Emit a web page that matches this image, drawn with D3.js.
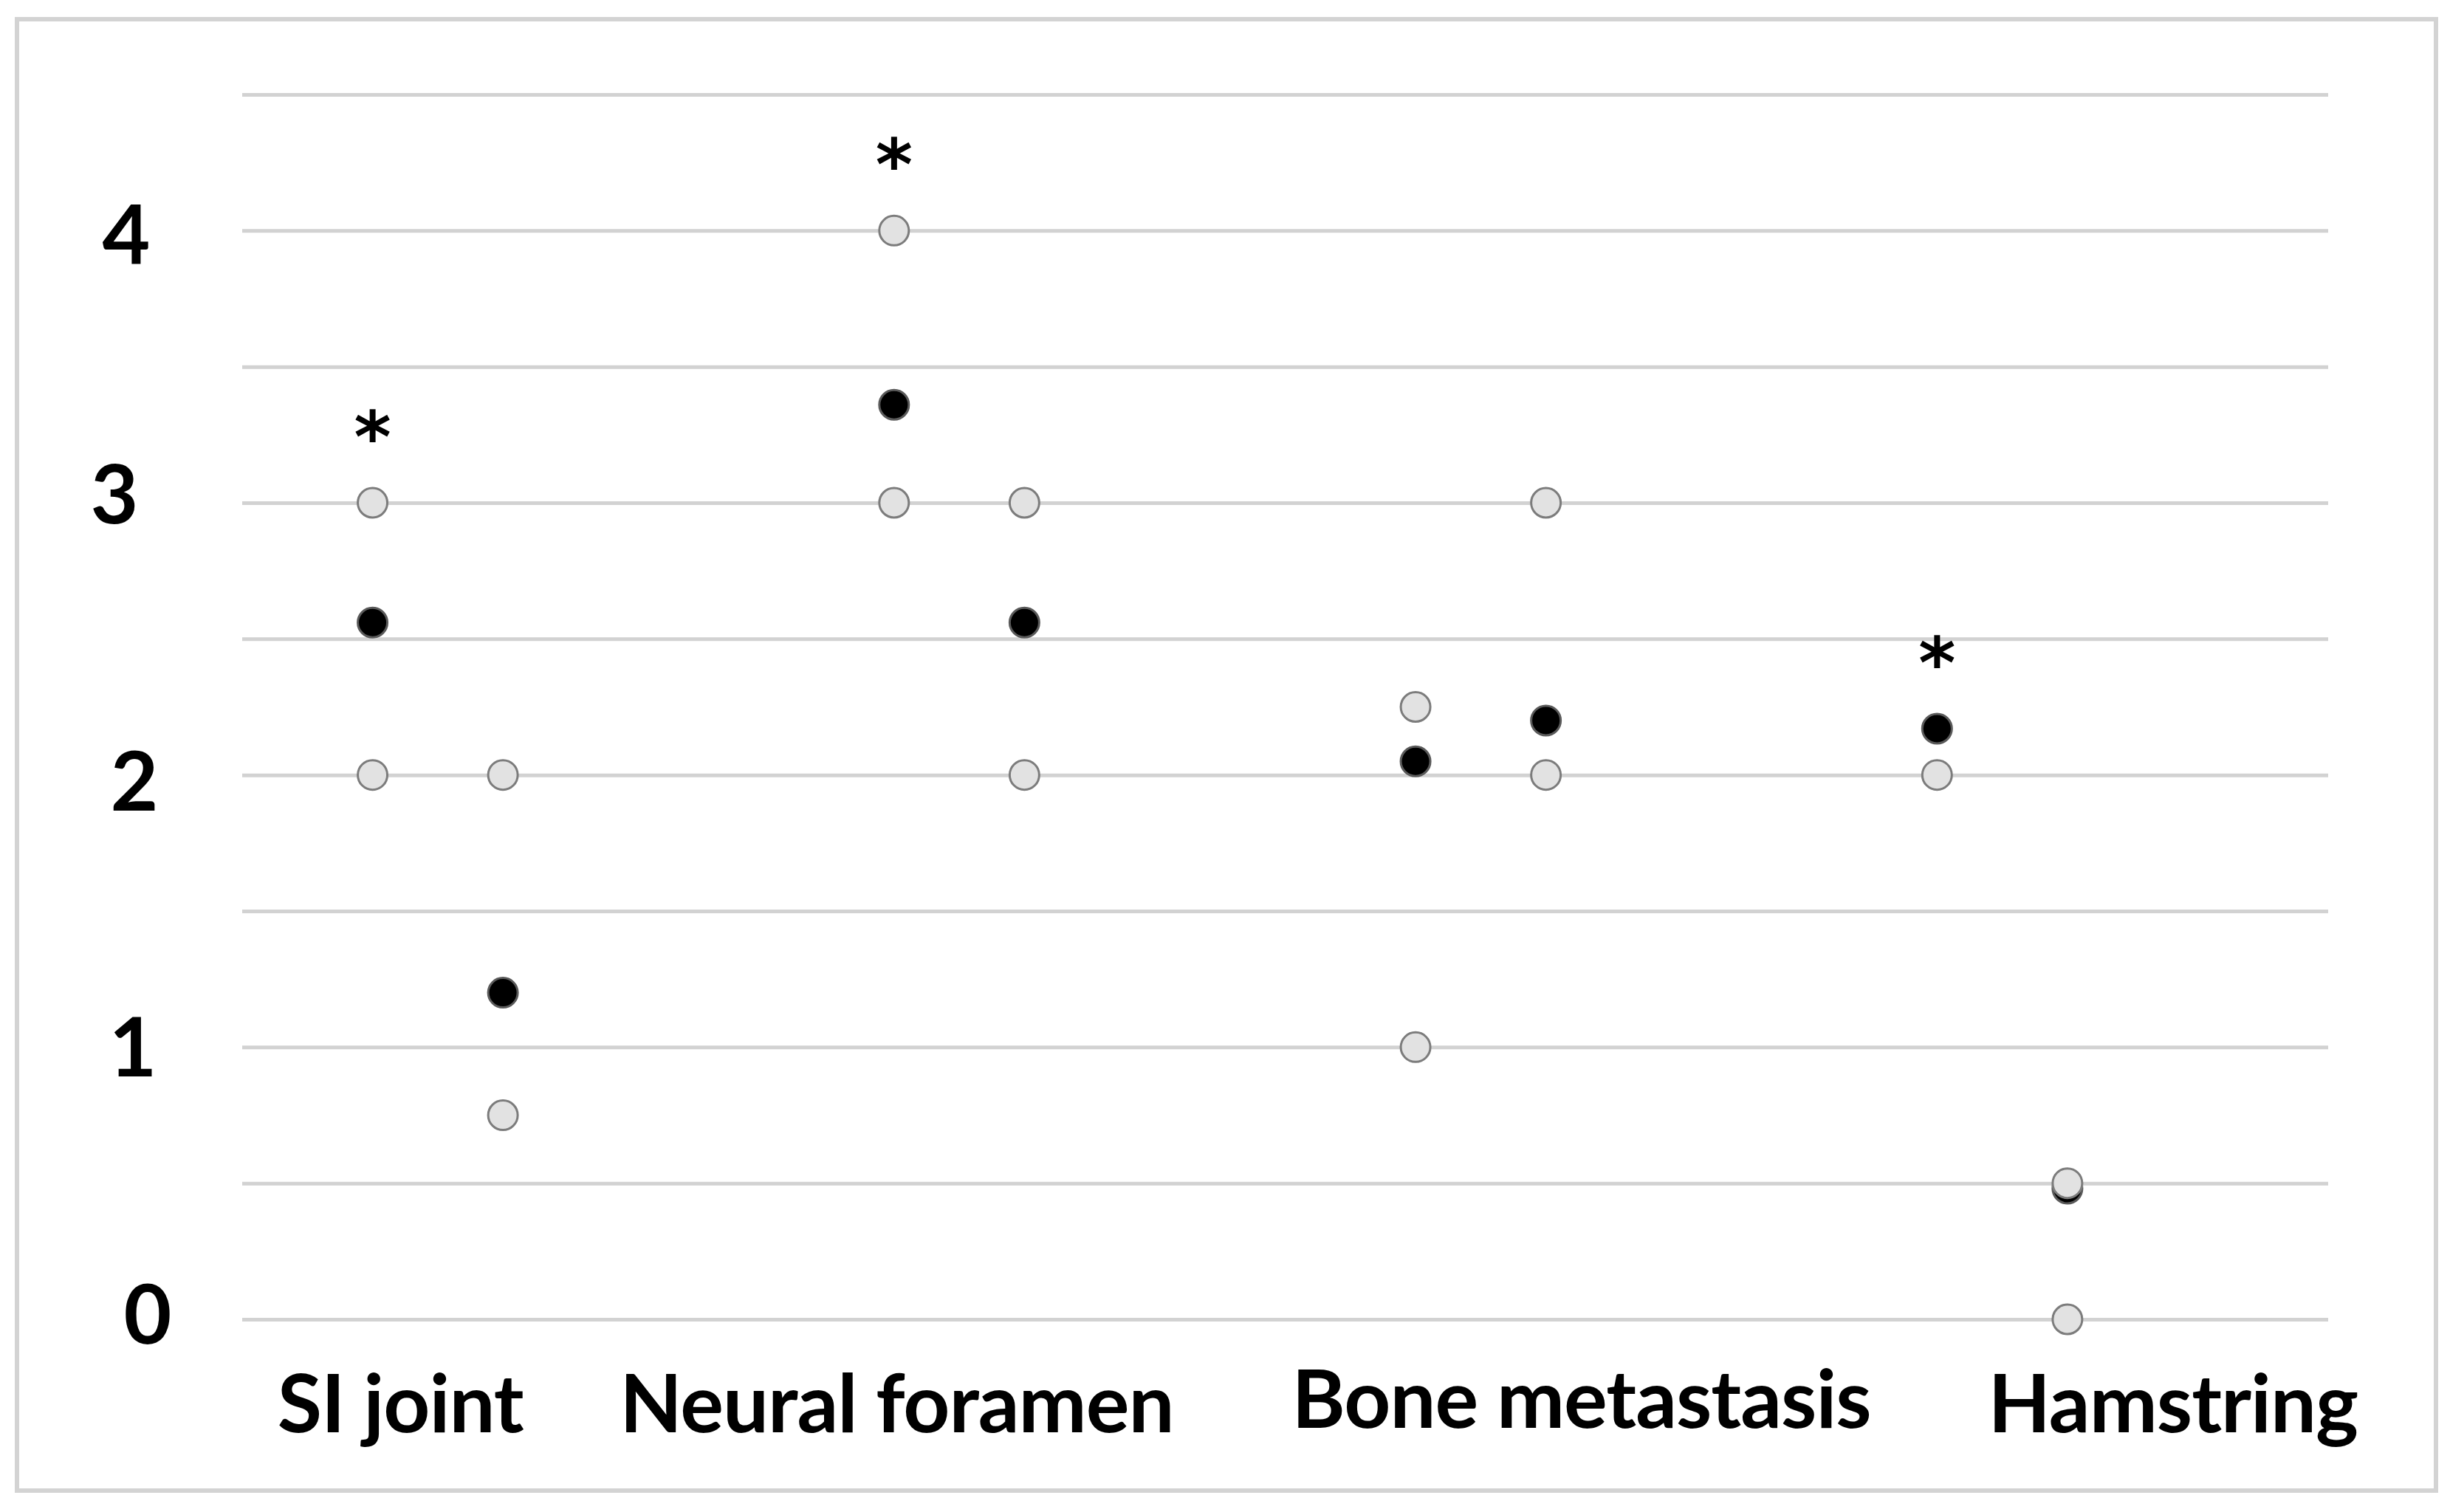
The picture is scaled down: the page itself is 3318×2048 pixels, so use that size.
<!DOCTYPE html>
<html>
<head>
<meta charset="utf-8">
<script src="https://cdn.jsdelivr.net/npm/d3@7"></script>
<style>
  html, body { margin: 0; padding: 0; background: #fff; }
  svg { display: block; }
</style>
</head>
<body>
<svg id="chart" width="3318" height="2048"></svg>
<script>
// ---------- DATA ----------
const categories = ["SI joint", "Neural foramen", "Bone metastasis", "Hamstring"];
const columns = ["left", "right"];            // two columns of points within each category
const yTicks = [0, 0.5, 1, 1.5, 2, 2.5, 3, 3.5, 4, 4.5];
const yTickLabels = ["0", "", "1", "", "2", "", "3", "", "4", ""];

// grey (open) points, per category, per column
const greyPoints = [
  [[3, 2], [2, 0.75]],
  [[4, 3], [3, 2]],
  [[2.25, 1], [3, 2]],
  [[2], [0.5, 0]]
];
// black (filled) points, per category, per column
const blackPoints = [
  [2.56, 1.20],
  [3.36, 2.56],
  [2.05, 2.20],
  [2.17, 0.48]
];
// significance asterisk, per category, per column
const significant = [
  [true, false],
  [true, false],
  [false, false],
  [true, false]
];

// ---------- LAYOUT ----------
const svg = d3.select("#chart");
const W = 3318, H = 2048;
const plot = { left: 328, right: 3153, top: 128, bottom: 1787 };

svg.append("rect").attr("width", W).attr("height", H).attr("fill", "#fff");
svg.append("rect")
  .attr("x", 23).attr("y", 26).attr("width", 3276).attr("height", 1993)
  .attr("fill", "none").attr("stroke", "#d3d3d3").attr("stroke-width", 6);

const y = d3.scaleLinear().domain([0, 4.5]).range([plot.bottom, plot.top]);
const x = d3.scaleBand().domain(categories).range([plot.left, plot.right]).padding(0);
// each category band is split in quarters; the two columns sit on the 1st and 2nd quarter marks
const sub = d3.scaleLinear().domain([0, 4]).range([0, x.bandwidth()]);
const colX = (ci, k) => x(categories[ci]) + sub(k + 1);

// gridlines via axis
const yAxis = d3.axisLeft(y)
  .tickValues(yTicks)
  .tickSize(-(plot.right - plot.left))
  .tickFormat("");
const gAxis = svg.append("g").attr("transform", `translate(${plot.left},0)`).call(yAxis);
gAxis.select(".domain").remove();
gAxis.selectAll(".tick line").attr("stroke", "#d2d2d2").attr("stroke-width", 5);

// y tick labels (hand-set nudges to mimic the original placement)
const yLabelNudge = { "4": [-9, 6], "3": [-25, -12], "2": [2, 8], "1": [0, 0], "0": [20, -7] };
const FONT = "Lato, 'Open Sans', sans-serif";
svg.append("g").selectAll("text")
  .data(yTicks.map((v, i) => ({ v, label: yTickLabels[i] })).filter(d => d.label !== ""))
  .join("text")
  .attr("x", d => 180 + yLabelNudge[d.label][0])
  .attr("y", d => y(d.v) + yLabelNudge[d.label][1] + 40)
  .attr("text-anchor", "middle")
  .attr("font-family", FONT)
  .attr("font-weight", 700)
  .attr("font-size", 112)
  .attr("fill", "#000")
  .text(d => d.label);

// category labels
const catNudge = [[-139, 0], [-173, 0], [48, -6], [143, 0]];
svg.append("g").selectAll("text")
  .data(categories)
  .join("text")
  .attr("x", (d, i) => x(d) + x.bandwidth() / 2 + catNudge[i][0])
  .attr("y", (d, i) => 1940 + catNudge[i][1])
  .attr("text-anchor", "middle")
  .attr("font-family", FONT)
  .attr("font-weight", 700)
  .attr("font-size", 110)
  .attr("letter-spacing", -1)
  .attr("fill", "#000")
  .text(d => d);

// points
const blackData = [];
const greyData = [];
const starData = [];
categories.forEach((c, ci) => {
  columns.forEach((col, k) => {
    const b = blackPoints[ci][k];
    if (b != null) blackData.push({ x: colX(ci, k), v: b });
    greyPoints[ci][k].forEach(v => greyData.push({ x: colX(ci, k), v }));
    if (significant[ci][k]) {
      const all = greyPoints[ci][k].concat(b != null ? [b] : []);
      starData.push({ x: colX(ci, k), v: d3.max(all) });
    }
  });
});

const R = 20;
svg.append("g").selectAll("circle")
  .data(blackData)
  .join("circle")
  .attr("cx", d => d.x).attr("cy", d => y(d.v)).attr("r", R)
  .attr("fill", "#000").attr("stroke", "#5a5a5a").attr("stroke-width", 3);

svg.append("g").selectAll("circle")
  .data(greyData)
  .join("circle")
  .attr("cx", d => d.x).attr("cy", d => y(d.v)).attr("r", R)
  .attr("fill", "#e2e2e2").attr("stroke", "#7c7c7c").attr("stroke-width", 3);

// asterisks above significant columns
svg.append("g").selectAll("text")
  .data(starData)
  .join("text")
  .attr("x", d => d.x)
  .attr("y", d => y(d.v) - 107 + 52)
  .attr("text-anchor", "middle")
  .attr("font-family", "'DejaVu Sans', sans-serif")
  .attr("font-weight", 700)
  .attr("font-size", 96)
  .attr("fill", "#000")
  .text("*");
</script>
</body>
</html>
